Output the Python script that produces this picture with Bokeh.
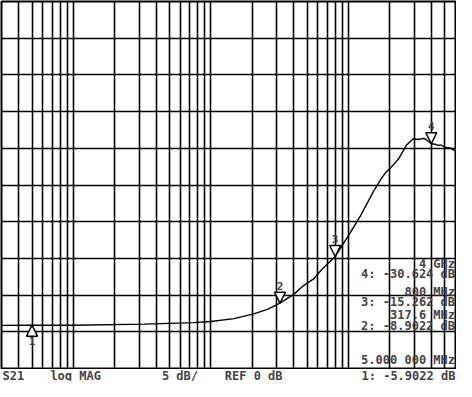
from bokeh.plotting import figure
from bokeh.layouts import column
from bokeh.models import Range1d, FixedTicker, Arrow, NormalHead, Label
from bokeh.embed import file_html
from bokeh.resources import INLINE

# S21 trace (frequency in MHz, magnitude in dB)
freq_mhz = [3.0, 5.0, 10.0, 32.7, 75.0, 100.0, 147.0, 205.0, 260.0, 317.6, 400.0, 472.0,
            558.0, 637.0, 800.0, 1000.0, 1222.0, 1517.0, 1735.0, 1885.0, 2015.0, 2303.0,
            2633.0, 2958.0, 3216.0, 3495.0, 3675.0, 4000.0, 4270.0, 4488.0, 4720.0,
            5045.0, 5574.0, 6000.0]
s21_db = [-5.87, -5.90, -5.90, -6.05, -6.25, -6.40, -6.80, -7.45, -8.10, -8.90, -10.10, -11.30,
          -12.20, -13.45, -15.26, -18.10, -20.80, -24.10, -25.90, -26.80, -27.30, -28.50,
          -30.40, -31.30, -31.20, -31.35, -31.20, -30.62, -30.55, -30.40, -30.45,
          -30.15, -30.00, -29.60]

# markers
marker_freq = [5.0, 317.6, 800.0, 4000.0]
marker_db = [-5.9022, -8.9022, -15.262, -30.624]
marker_names = ["1", "2", "3", "4"]

# readouts
readout_values = ["2: -8.9022 dB", "3: -15.262 dB", "4: -30.624 dB"]
readout_freqs = ["317.6 MHz", "800 MHz", "4 GHz"]

# grid
grid_freqs = [4, 5, 6, 7, 8, 9, 10, 20, 30, 40, 50, 60, 70, 80, 90, 100,
              200, 300, 400, 500, 600, 700, 800, 900, 1000, 2000, 3000, 4000, 5000]
grid_db = [-5, -10, -15, -20, -25, -30, -35, -40, -45]

FONT = "DejaVu Sans Mono"

p = figure(width=456, height=369, x_axis_type="log",
           x_range=Range1d(3, 6000), y_range=Range1d(0, -50),
           output_backend="svg", toolbar_location=None,
           min_border_left=1, min_border_right=1, min_border_top=1, min_border_bottom=1)
p.xaxis.visible = False
p.yaxis.visible = False
p.background_fill_color = "white"
p.border_fill_color = "white"
p.outline_line_color = "black"
p.outline_line_width = 2

p.xgrid.ticker = FixedTicker(ticks=grid_freqs)
p.ygrid.ticker = FixedTicker(ticks=grid_db)
for g in (p.xgrid, p.ygrid):
    g.grid_line_color = "black"
    g.grid_line_width = 1.6
    g.grid_line_alpha = 1.0

p.line(freq_mhz, s21_db, line_color="black", line_width=1.4)

# marker symbols
for f, d, n in zip(marker_freq, marker_db, marker_names):
    below = (n == "1")
    start = d + 1.9 if below else d - 1.9
    p.add_layout(Arrow(end=NormalHead(size=11, fill_color="white", line_color="black", line_width=1.5),
                       x_start=f, y_start=start, x_end=f, y_end=d, line_alpha=0))
    p.add_layout(Label(x=f, y=(d + 2.2) if below else (d - 2.4), text=n,
                       text_font=FONT, text_font_style="bold", text_font_size="11px",
                       text_align="center", text_baseline="middle"))

def txt(fig, x, y, s, align="left", size="12px", baseline="alphabetic"):
    fig.add_layout(Label(x=x, y=y, text=s, text_font=FONT, text_font_style="bold",
                         text_font_size=size, text_align=align, text_baseline=baseline))

# marker readout block
txt(p, 5950, -14.3, readout_freqs[2], "right")
txt(p, 5950, -12.9, readout_values[2], "right")
txt(p, 5950, -10.45, readout_freqs[1], "right")
txt(p, 5950, -9.05, readout_values[1], "right")
txt(p, 5950, -7.25, readout_freqs[0], "right")
txt(p, 5950, -5.85, readout_values[0], "right")
txt(p, 5950, -1.15, "5.000 000 MHz", "right")

# status line below the grid
s = figure(width=456, height=12, x_axis_type="log",
           x_range=p.x_range, y_range=Range1d(0, 1),
           output_backend="svg", toolbar_location=None,
           min_border_left=1, min_border_right=1, min_border_top=0, min_border_bottom=0)
s.xaxis.visible = False
s.yaxis.visible = False
s.xgrid.visible = False
s.ygrid.visible = False
s.outline_line_color = None
txt(s, 3.05, 0.5, "S21", baseline="middle")
txt(s, 6.8, 0.5, "log MAG", baseline="middle")
txt(s, 44, 0.5, "5 dB/", baseline="middle")
txt(s, 126, 0.5, "REF 0 dB", baseline="middle")
txt(s, 5990, 0.5, "1: -5.9022 dB", "right", baseline="middle")

layout = column(p, s, spacing=0)
open("out.html", "w").write(file_html(layout, INLINE))
